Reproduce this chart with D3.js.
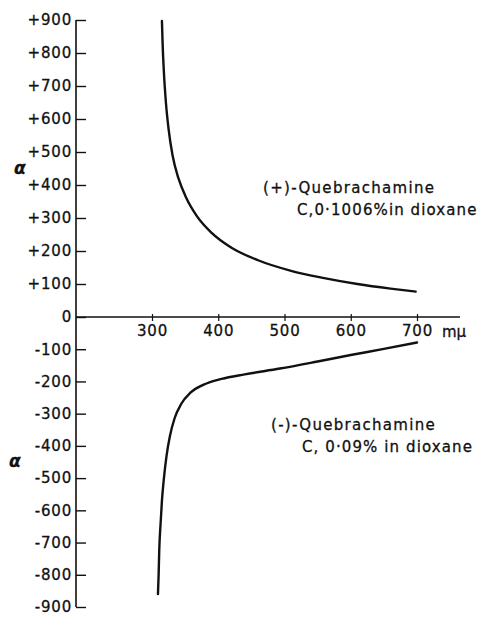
<!DOCTYPE html>
<html>
<head>
<meta charset="utf-8">
<script src="https://cdn.jsdelivr.net/npm/d3@7"></script>
<style>
  html, body { margin: 0; padding: 0; background: #fff; }
  svg { display: block; }
  text { font-family: "DejaVu Sans", sans-serif; fill: #111; stroke: #111; stroke-width: 0.3; }
</style>
</head>
<body>
<svg id="chart" width="492" height="621"></svg>
<script>
// ---- data ----
const yTickValues = [900, 800, 700, 600, 500, 400, 300, 200, 100, 0, -100, -200, -300, -400, -500, -600, -700, -800, -900];
const xTickValues = [300, 400, 500, 600, 700];

// (+)-Quebrachamine, C 0.1006% in dioxane : wavelength (mμ), rotation α
const plusWavelength = [315, 316, 318, 321, 325, 331, 340, 352, 368, 390, 420, 460, 510, 560, 610, 660, 698];
const plusAlpha      = [897, 830, 740, 650, 570, 490, 420, 360, 305, 255, 210, 172, 140, 118, 100, 86, 77];

// (-)-Quebrachamine, C 0.09% in dioxane
const minusWavelength = [309, 310, 311, 313, 315, 318, 322, 327, 334, 344, 358, 378, 405, 440, 493, 550, 600, 650, 700];
const minusAlpha      = [-860, -800, -720, -640, -570, -500, -430, -370, -315, -270, -235, -210, -192, -178, -160, -138, -118, -99, -79];

const plusLabel  = ["(+)-Quebrachamine", "C,0·1006%in dioxane"];
const minusLabel = ["(-)-Quebrachamine", "C, 0·09% in dioxane"];

// ---- scales ----
const svg = d3.select("#chart");
const x = d3.scaleLinear().domain([300, 700]).range([152, 417]);
const y = d3.scaleLinear().domain([-900, 0, 900]).range([607, 317, 20]);
const axisX0 = 76;     // pixel position of the vertical axis
const axisXEnd = 460;  // end of the horizontal axis line

// ---- y axis ----
const fmtY = v => v > 0 ? "+" + v : (v < 0 ? "-" + Math.abs(v) : "0");
const yAxis = d3.axisLeft(y).tickValues(yTickValues).tickSize(-10).tickPadding(4).tickFormat(fmtY);
const gy = svg.append("g").attr("transform", `translate(${axisX0},0)`).call(yAxis);
gy.select(".domain").remove();
gy.selectAll(".tick line").attr("stroke", "#111").attr("stroke-width", 1.4);
gy.selectAll(".tick text").attr("font-size", 15).attr("letter-spacing", 0.8)
  .attr("font-family", "DejaVu Sans").attr("fill", "#111");
svg.append("line").attr("x1", axisX0).attr("x2", axisX0).attr("y1", y(900)).attr("y2", y(-900))
  .attr("stroke", "#111").attr("stroke-width", 1.6);

// ---- x axis ----
const xAxis = d3.axisBottom(x).tickValues(xTickValues).tickSize(7).tickPadding(4).tickFormat(d3.format("d"));
const gx = svg.append("g").attr("transform", `translate(0,${y(0) - 3})`).call(xAxis);
gx.select(".domain").remove();
gx.selectAll(".tick line").attr("stroke", "#111").attr("stroke-width", 1.2);
gx.selectAll(".tick text").attr("font-size", 15).attr("letter-spacing", 0.8)
  .attr("font-family", "DejaVu Sans").attr("fill", "#111");
svg.append("line").attr("x1", axisX0).attr("x2", axisXEnd).attr("y1", y(0)).attr("y2", y(0))
  .attr("stroke", "#111").attr("stroke-width", 1.6);
// unit after last tick
svg.append("text").attr("x", x(700) + 25).attr("y", y(0) + 20)
  .attr("font-size", 15).text("mμ");

// ---- α axis titles ----
[450, -450].forEach(v => {
  svg.append("text").attr("x", v > 0 ? 14 : 9).attr("y", y(v) + 5)
    .attr("font-family", "DejaVu Serif").attr("font-style", "italic").attr("font-weight", "bold")
    .attr("font-size", 17).text("α");
});

// ---- curves ----
const line = d3.line().x(d => x(d[0])).y(d => y(d[1])).curve(d3.curveMonotoneX);
svg.append("path").datum(d3.zip(plusWavelength, plusAlpha)).attr("d", line)
  .attr("fill", "none").attr("stroke", "#111").attr("stroke-width", 2.4).attr("stroke-linecap", "round");
svg.append("path").datum(d3.zip(minusWavelength, minusAlpha)).attr("d", line)
  .attr("fill", "none").attr("stroke", "#111").attr("stroke-width", 2.4).attr("stroke-linecap", "round");

// ---- curve labels ----
function addLabel(lines, x0, x1, yBase) {
  svg.append("text").attr("x", x0).attr("y", yBase).attr("font-size", 15).attr("letter-spacing", 1.3).text(lines[0]);
  svg.append("text").attr("x", x1).attr("y", yBase + 22).attr("font-size", 15).attr("letter-spacing", 1.1).text(lines[1]);
}
addLabel(plusLabel, 263, 297, 193);
addLabel(minusLabel, 271, 302, 430);
</script>
</body>
</html>
